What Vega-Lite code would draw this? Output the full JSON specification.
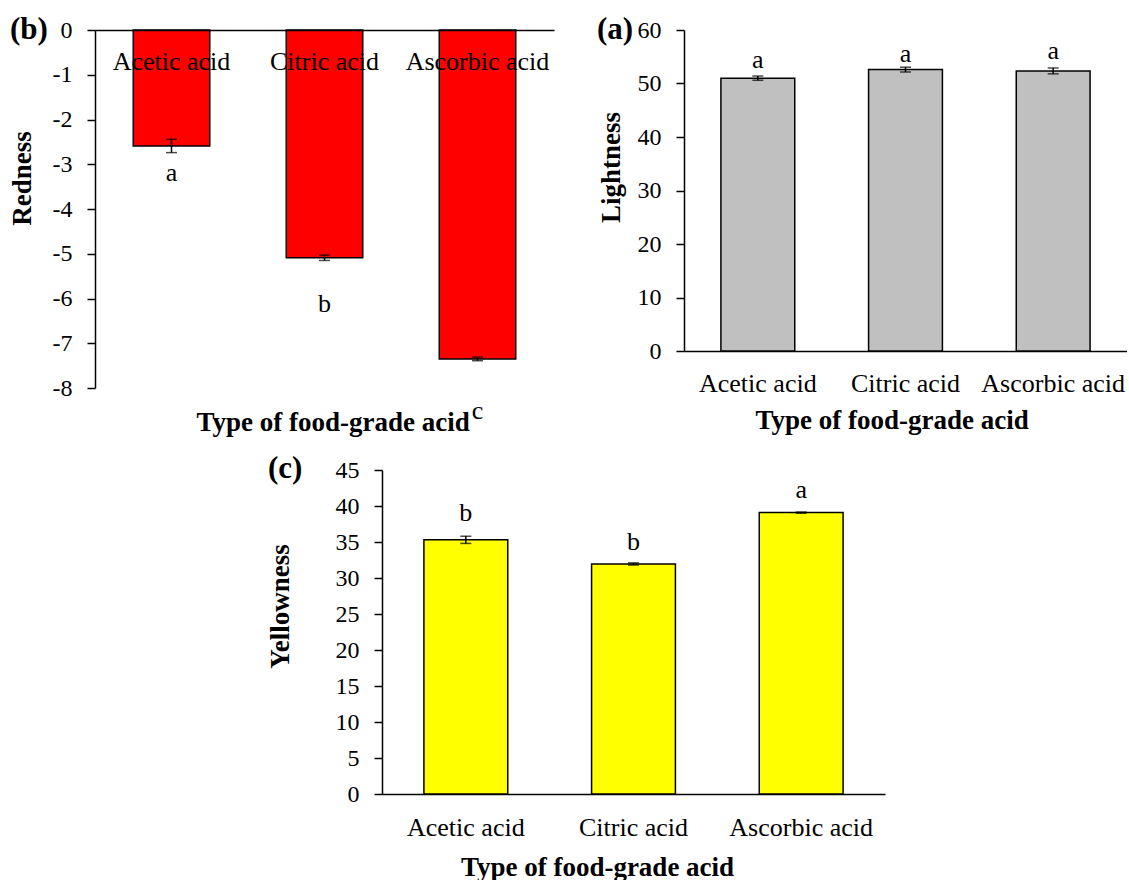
{
  "$schema": "https://vega.github.io/schema/vega-lite/v6.json",
  "padding": {"left": 8, "top": 14, "right": 0, "bottom": 0},
  "background": "white",
  "config": {
    "font": "Liberation Serif",
    "view": {"stroke": null},
    "axis": {"domainColor": "black", "domainWidth": 1.5, "tickColor": "black", "tickWidth": 1.5, "labelColor": "black", "titleColor": "black", "grid": false, "labelFont": "Liberation Serif", "titleFont": "Liberation Serif", "titleFontWeight": "bold", "titleFontSize": 27, "labelOverlap": false},
    "axisX": {"ticks": false, "tickSize": 0, "labelFontSize": 26, "labelAngle": 0, "labelBaseline": "top", "titleBaseline": "alphabetic"},
    "axisY": {"tickSize": 8, "labelFontSize": 24, "labelPadding": 15, "titleAngle": -90, "titleBaseline": "middle", "titleAlign": "center"},
    "title": {"font": "Liberation Serif", "fontSize": 31, "fontWeight": "bold", "color": "black", "anchor": "start", "frame": "group", "offset": 0, "baseline": "middle"}
  },
  "spacing": 17,
  "vconcat": [
    {
      "spacing": 42,
      "hconcat": [
        {
          "width": 459,
          "height": 358,
          "title": {"text": "(b)", "dx": -85, "dy": 32},
          "data": {"values": [
            {"acid": "Acetic acid", "redness": -2.59, "lo": -2.74, "hi": -2.44, "letter": "a", "letter_pos": -3.19},
            {"acid": "Citric acid", "redness": -5.09, "lo": -5.15, "hi": -5.03, "letter": "b", "letter_pos": -6.13},
            {"acid": "Ascorbic acid", "redness": -7.35, "lo": -7.39, "hi": -7.31, "letter": "c", "letter_pos": -8.51}
          ]},
          "encoding": {
            "x": {"field": "acid", "type": "nominal", "sort": ["Acetic acid", "Citric acid", "Ascorbic acid"],
              "scale": {"paddingInner": 0.5, "paddingOuter": 0.25},
              "axis": {"orient": "bottom", "offset": -358, "zindex": 2, "labelPadding": 18, "title": "Type of food-grade acid", "titleX": 237.7, "titleY": 400.7}}
          },
          "layer": [
            {"mark": {"type": "bar", "color": "#FF0000", "stroke": "black", "strokeWidth": 1.5},
              "encoding": {"y": {"field": "redness", "type": "quantitative", "title": "Redness", "stack": null,
                "scale": {"domain": [-8, 0], "nice": false},
                "axis": {"values": [-8, -7, -6, -5, -4, -3, -2, -1, 0], "labelOverlap": false, "labelFontSize": 24, "labelExpr": "datum.value < 0 ? '-' + abs(datum.value) : '' + datum.value", "titleX": -73, "titleY": 148}}}},
            {"mark": {"type": "rule", "color": "black", "strokeWidth": 1.5},
              "encoding": {"y": {"field": "lo", "type": "quantitative", "title": "Redness", "scale": {"domain": [-8, 0], "nice": false},
                "axis": {"values": [-8, -7, -6, -5, -4, -3, -2, -1, 0], "labelOverlap": false, "labelFontSize": 24, "labelExpr": "datum.value < 0 ? '-' + abs(datum.value) : '' + datum.value", "titleX": -73, "titleY": 148}}, "y2": {"field": "hi"}}},
            {"mark": {"type": "tick", "color": "black", "size": 11, "thickness": 1.5},
              "encoding": {"y": {"field": "lo", "type": "quantitative", "title": "Redness", "scale": {"domain": [-8, 0], "nice": false},
                "axis": {"values": [-8, -7, -6, -5, -4, -3, -2, -1, 0], "labelOverlap": false, "labelFontSize": 24, "labelExpr": "datum.value < 0 ? '-' + abs(datum.value) : '' + datum.value", "titleX": -73, "titleY": 148}}}},
            {"mark": {"type": "tick", "color": "black", "size": 11, "thickness": 1.5},
              "encoding": {"y": {"field": "hi", "type": "quantitative", "title": "Redness", "scale": {"domain": [-8, 0], "nice": false},
                "axis": {"values": [-8, -7, -6, -5, -4, -3, -2, -1, 0], "labelOverlap": false, "labelFontSize": 24, "labelExpr": "datum.value < 0 ? '-' + abs(datum.value) : '' + datum.value", "titleX": -73, "titleY": 148}}}},
            {"mark": {"type": "text", "fontSize": 26, "baseline": "middle", "color": "black"},
              "encoding": {"y": {"field": "letter_pos", "type": "quantitative", "title": "Redness", "scale": {"domain": [-8, 0], "nice": false},
                "axis": {"values": [-8, -7, -6, -5, -4, -3, -2, -1, 0], "labelOverlap": false, "labelFontSize": 24, "labelExpr": "datum.value < 0 ? '-' + abs(datum.value) : '' + datum.value", "titleX": -73, "titleY": 148}}, "text": {"field": "letter"}}}
          ]
        },
        {
          "width": 443,
          "height": 321,
          "title": {"text": "(a)", "dx": -87, "dy": 32},
          "data": {"values": [
            {"acid": "Acetic acid", "lightness": 51.0, "lo": 50.6, "hi": 51.4, "letter": "a", "letter_pos": 54.4},
            {"acid": "Citric acid", "lightness": 52.6, "lo": 52.15, "hi": 53.05, "letter": "a", "letter_pos": 55.6},
            {"acid": "Ascorbic acid", "lightness": 52.35, "lo": 51.8, "hi": 52.9, "letter": "a", "letter_pos": 56.1}
          ]},
          "encoding": {
            "x": {"field": "acid", "type": "nominal", "sort": ["Acetic acid", "Citric acid", "Ascorbic acid"],
              "scale": {"paddingInner": 0.5, "paddingOuter": 0.25},
              "axis": {"labelPadding": 19, "title": "Type of food-grade acid", "titleX": 207.7, "titleY": 77.3}}
          },
          "layer": [
            {"mark": {"type": "bar", "color": "#C0C0C0", "stroke": "black", "strokeWidth": 1.5},
              "encoding": {"y": {"field": "lightness", "type": "quantitative", "title": "Lightness",
                "scale": {"domain": [0, 60], "nice": false},
                "axis": {"values": [0, 10, 20, 30, 40, 50, 60], "labelOverlap": false, "labelFontSize": 24, "titleX": -73, "titleY": 137}}}},
            {"mark": {"type": "rule", "color": "black", "strokeWidth": 1.5},
              "encoding": {"y": {"field": "lo", "type": "quantitative", "title": "Lightness", "scale": {"domain": [0, 60], "nice": false},
                "axis": {"values": [0, 10, 20, 30, 40, 50, 60], "labelOverlap": false, "labelFontSize": 24, "titleX": -73, "titleY": 137}}, "y2": {"field": "hi"}}},
            {"mark": {"type": "tick", "color": "black", "size": 11, "thickness": 1.5},
              "encoding": {"y": {"field": "lo", "type": "quantitative", "title": "Lightness", "scale": {"domain": [0, 60], "nice": false},
                "axis": {"values": [0, 10, 20, 30, 40, 50, 60], "labelOverlap": false, "labelFontSize": 24, "titleX": -73, "titleY": 137}}}},
            {"mark": {"type": "tick", "color": "black", "size": 11, "thickness": 1.5},
              "encoding": {"y": {"field": "hi", "type": "quantitative", "title": "Lightness", "scale": {"domain": [0, 60], "nice": false},
                "axis": {"values": [0, 10, 20, 30, 40, 50, 60], "labelOverlap": false, "labelFontSize": 24, "titleX": -73, "titleY": 137}}}},
            {"mark": {"type": "text", "fontSize": 26, "baseline": "middle", "color": "black"},
              "encoding": {"y": {"field": "letter_pos", "type": "quantitative", "title": "Lightness", "scale": {"domain": [0, 60], "nice": false},
                "axis": {"values": [0, 10, 20, 30, 40, 50, 60], "labelOverlap": false, "labelFontSize": 24, "titleX": -73, "titleY": 137}}, "text": {"field": "letter"}}}
          ]
        }
      ]
    },
    {
      "spacing": 0,
      "hconcat": [
        {"width": 170, "height": 1, "data": {"values": []}, "mark": "point", "encoding": {}},
        {
          "width": 503,
          "height": 324,
          "title": {"text": "(c)", "dx": -114, "dy": 31},
          "data": {"values": [
            {"acid": "Acetic acid", "yellowness": 35.3, "lo": 34.8, "hi": 35.8, "letter": "b", "letter_pos": 39.0},
            {"acid": "Citric acid", "yellowness": 31.95, "lo": 31.8, "hi": 32.1, "letter": "b", "letter_pos": 35.0},
            {"acid": "Ascorbic acid", "yellowness": 39.08, "lo": 39.0, "hi": 39.16, "letter": "a", "letter_pos": 42.2}
          ]},
          "encoding": {
            "x": {"field": "acid", "type": "nominal", "sort": ["Acetic acid", "Citric acid", "Ascorbic acid"],
              "scale": {"paddingInner": 0.5, "paddingOuter": 0.25},
              "axis": {"labelPadding": 20, "title": "Type of food-grade acid", "titleX": 215, "titleY": 81}}
          },
          "layer": [
            {"mark": {"type": "bar", "color": "#FFFF00", "stroke": "black", "strokeWidth": 1.5},
              "encoding": {"y": {"field": "yellowness", "type": "quantitative", "title": "Yellowness",
                "scale": {"domain": [0, 45], "nice": false},
                "axis": {"values": [0, 5, 10, 15, 20, 25, 30, 35, 40, 45], "labelOverlap": false, "labelFontSize": 24, "titleX": -102, "titleY": 136}}}},
            {"mark": {"type": "rule", "color": "black", "strokeWidth": 1.5},
              "encoding": {"y": {"field": "lo", "type": "quantitative", "title": "Yellowness", "scale": {"domain": [0, 45], "nice": false},
                "axis": {"values": [0, 5, 10, 15, 20, 25, 30, 35, 40, 45], "labelOverlap": false, "labelFontSize": 24, "titleX": -102, "titleY": 136}}, "y2": {"field": "hi"}}},
            {"mark": {"type": "tick", "color": "black", "size": 11, "thickness": 1.5},
              "encoding": {"y": {"field": "lo", "type": "quantitative", "title": "Yellowness", "scale": {"domain": [0, 45], "nice": false},
                "axis": {"values": [0, 5, 10, 15, 20, 25, 30, 35, 40, 45], "labelOverlap": false, "labelFontSize": 24, "titleX": -102, "titleY": 136}}}},
            {"mark": {"type": "tick", "color": "black", "size": 11, "thickness": 1.5},
              "encoding": {"y": {"field": "hi", "type": "quantitative", "title": "Yellowness", "scale": {"domain": [0, 45], "nice": false},
                "axis": {"values": [0, 5, 10, 15, 20, 25, 30, 35, 40, 45], "labelOverlap": false, "labelFontSize": 24, "titleX": -102, "titleY": 136}}}},
            {"mark": {"type": "text", "fontSize": 26, "baseline": "middle", "color": "black"},
              "encoding": {"y": {"field": "letter_pos", "type": "quantitative", "title": "Yellowness", "scale": {"domain": [0, 45], "nice": false},
                "axis": {"values": [0, 5, 10, 15, 20, 25, 30, 35, 40, 45], "labelOverlap": false, "labelFontSize": 24, "titleX": -102, "titleY": 136}}, "text": {"field": "letter"}}}
          ]
        }
      ]
    }
  ]
}
